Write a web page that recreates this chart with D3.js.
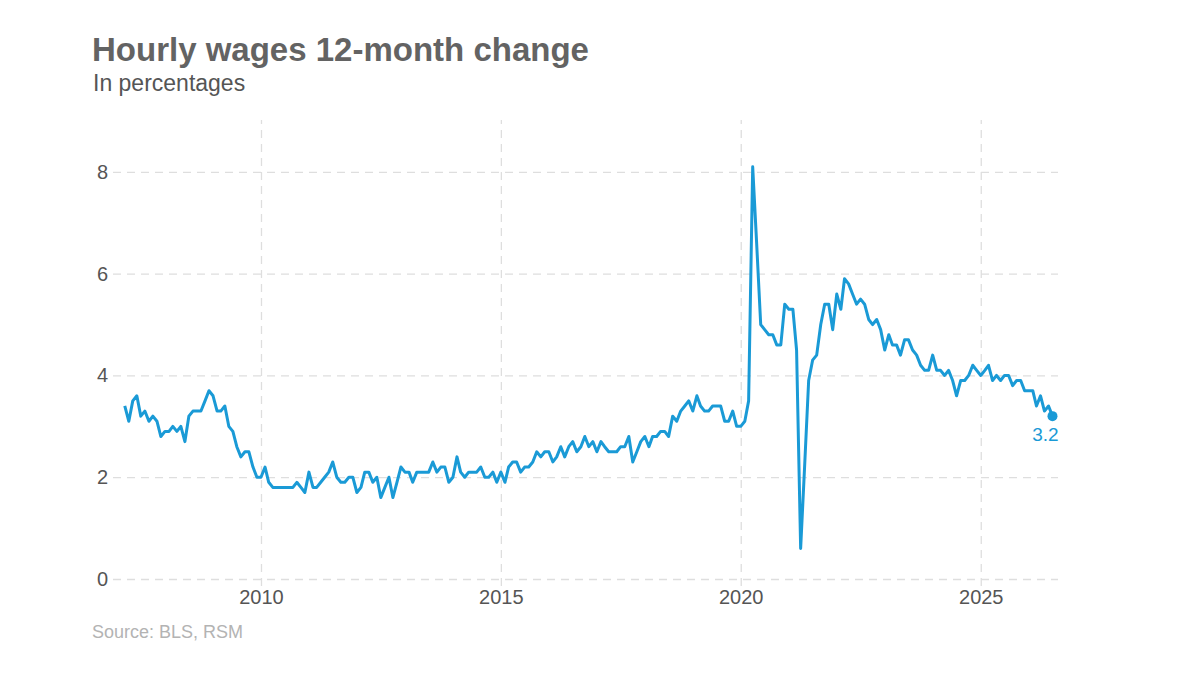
<!DOCTYPE html>
<html>
<head>
<meta charset="utf-8">
<script src="https://cdn.jsdelivr.net/npm/d3@7"></script>
<style>
  body { margin: 0; background: #fff; }
  svg { display: block; font-family: "Liberation Sans", Arial, sans-serif; }
</style>
</head>
<body>
<div class="visHolder"></div>
<script>
// Average hourly earnings, 12-month % change, monthly from March 2007
const firstMonth = "2007-03";
const wageChange = [
  3.4, 3.1, 3.5, 3.6, 3.2, 3.3, 3.1, 3.2, 3.1, 2.8,            // 2007 (Mar-Dec)
  2.9, 2.9, 3.0, 2.9, 3.0, 2.7, 3.2, 3.3, 3.3, 3.3, 3.5, 3.7,  // 2008
  3.6, 3.3, 3.3, 3.4, 3.0, 2.9, 2.6, 2.4, 2.5, 2.5, 2.2, 2.0,  // 2009
  2.0, 2.2, 1.9, 1.8, 1.8, 1.8, 1.8, 1.8, 1.8, 1.9, 1.8, 1.7,  // 2010
  2.1, 1.8, 1.8, 1.9, 2.0, 2.1, 2.3, 2.0, 1.9, 1.9, 2.0, 2.0,  // 2011
  1.7, 1.8, 2.1, 2.1, 1.9, 2.0, 1.6, 1.8, 2.0, 1.6, 1.9, 2.2,  // 2012
  2.1, 2.1, 1.9, 2.1, 2.1, 2.1, 2.1, 2.3, 2.1, 2.2, 2.2, 1.9,  // 2013
  2.0, 2.4, 2.1, 2.0, 2.1, 2.1, 2.1, 2.2, 2.0, 2.0, 2.1, 1.9,  // 2014
  2.1, 1.9, 2.2, 2.3, 2.3, 2.1, 2.2, 2.2, 2.3, 2.5, 2.4, 2.5,  // 2015
  2.5, 2.3, 2.4, 2.6, 2.4, 2.6, 2.7, 2.5, 2.6, 2.8, 2.6, 2.7,  // 2016
  2.5, 2.7, 2.6, 2.5, 2.5, 2.5, 2.6, 2.6, 2.8, 2.3, 2.5, 2.7,  // 2017
  2.8, 2.6, 2.8, 2.8, 2.9, 2.9, 2.8, 3.2, 3.1, 3.3, 3.4, 3.5,  // 2018
  3.3, 3.6, 3.4, 3.3, 3.3, 3.4, 3.4, 3.4, 3.1, 3.1, 3.3, 3.0,  // 2019
  3.0, 3.1, 3.5, 8.1, 6.6, 5.0, 4.9, 4.8, 4.8, 4.6, 4.6, 5.4,  // 2020
  5.3, 5.3, 4.5, 0.6, 2.2, 3.9, 4.3, 4.4, 5.0, 5.4, 5.4, 4.9,  // 2021
  5.6, 5.3, 5.9, 5.8, 5.6, 5.4, 5.5, 5.4, 5.1, 5.0, 5.1, 4.9,  // 2022
  4.5, 4.8, 4.6, 4.6, 4.4, 4.7, 4.7, 4.5, 4.4, 4.2, 4.1, 4.1,  // 2023
  4.4, 4.1, 4.1, 4.0, 4.1, 3.9, 3.6, 3.9, 3.9, 4.0, 4.2, 4.1,  // 2024
  4.0, 4.1, 4.2, 3.9, 4.0, 3.9, 4.0, 4.0, 3.8, 3.9, 3.9, 3.7,  // 2025
  3.7, 3.7, 3.4, 3.6, 3.3, 3.4, 3.2                            // 2026 (Jan-Jul)
];
const yearTicks = [2010, 2015, 2020, 2025];
const valueTicks = [0, 2, 4, 6, 8];

const width = 1200, height = 675;
const plot = {left: 117, right: 1058, top: 121, bottom: 579};
const lineColor = "#1a9ad6";

const parseMonth = d3.timeParse("%Y-%m");
const start = parseMonth(firstMonth);
const dataset = wageChange.map((v, i) => ({date: d3.timeMonth.offset(start, i), value: v}));

const svg = d3.select(".visHolder").append("svg")
    .attr("width", width)
    .attr("height", height);

// Scales
const x = d3.scaleTime()
    .domain([new Date(2007, 0, 1), new Date(2026, 7, 12)])
    .range([plot.left, plot.right]);
const y = d3.scaleLinear()
    .domain([0, 9])
    .range([plot.bottom, plot.top]);

// Horizontal grid + y labels
const yAxis = d3.axisLeft(y)
    .tickValues(valueTicks)
    .tickSize(-(plot.right - 113))
    .tickPadding(10)
    .tickFormat(d3.format("d"));
const gy = svg.append("g")
    .attr("transform", "translate(113,0)")
    .call(yAxis);
gy.select(".domain").remove();
gy.selectAll(".tick line")
    .attr("stroke", "#dedede")
    .attr("stroke-width", 1.3)
    .attr("stroke-dasharray", "8,6");
gy.selectAll(".tick text")
    .attr("x", -5)
    .attr("fill", "#555")
    .style("font-size", "20px");

// Vertical grid + x labels
const xAxis = d3.axisBottom(x)
    .tickValues(yearTicks.map(yr => new Date(yr, 0, 1)))
    .tickSize(-(586 - 120))
    .tickPadding(4)
    .tickFormat(d3.timeFormat("%Y"));
const gx = svg.append("g")
    .attr("transform", "translate(0,586)")
    .call(xAxis);
gx.select(".domain").remove();
gx.selectAll(".tick line")
    .attr("stroke", "#dedede")
    .attr("stroke-width", 1.3)
    .attr("stroke-dasharray", "8,6");
gx.selectAll(".tick text")
    .attr("fill", "#555")
    .style("font-size", "20px");

// The line
const line = d3.line()
    .x(d => x(d.date))
    .y(d => y(d.value));
svg.append("path")
    .datum(dataset)
    .attr("fill", "none")
    .attr("stroke", lineColor)
    .attr("stroke-width", 3)
    .attr("stroke-linejoin", "round")
    .attr("d", line);

// Last point marker and label
const last = dataset[dataset.length - 1];
svg.append("circle")
    .attr("cx", x(last.date))
    .attr("cy", y(last.value))
    .attr("r", 5)
    .attr("fill", lineColor);
svg.append("text")
    .attr("x", x(last.date) - 7)
    .attr("y", y(last.value) + 25)
    .attr("text-anchor", "middle")
    .attr("fill", lineColor)
    .style("font-size", "19px")
    .text(d3.format(".1f")(last.value));

// Titles
svg.append("text")
    .attr("x", 92)
    .attr("y", 61)
    .attr("fill", "#636363")
    .style("font-size", "33px")
    .style("font-weight", "bold")
    .text("Hourly wages 12-month change");
svg.append("text")
    .attr("x", 93)
    .attr("y", 91)
    .attr("fill", "#555")
    .style("font-size", "23px")
    .text("In percentages");

// Source
svg.append("text")
    .attr("x", 92)
    .attr("y", 638)
    .attr("fill", "#b3b3b3")
    .style("font-size", "18px")
    .text("Source: BLS, RSM");
</script>
</body>
</html>
